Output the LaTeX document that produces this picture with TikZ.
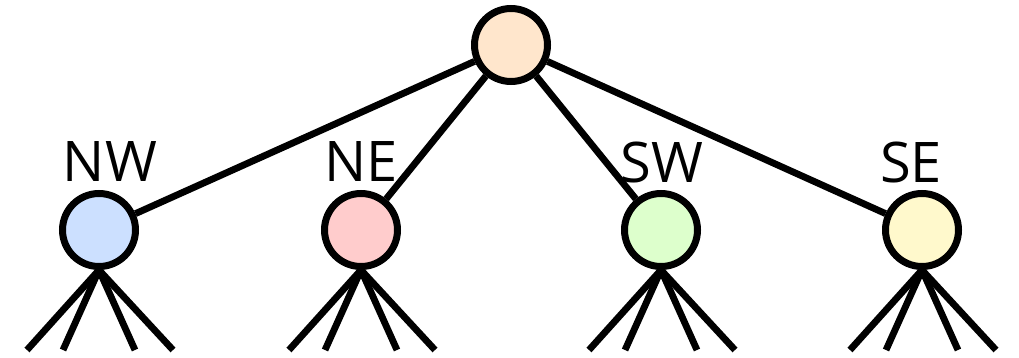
\documentclass[tikz,border=0pt]{standalone}
\usepackage{fontspec}
\setmainfont{Open Sans}
\usetikzlibrary{backgrounds}
\definecolor{rootfill}{HTML}{FFE6CC}
\definecolor{nwfill}{HTML}{CCE0FF}
\definecolor{nefill}{HTML}{FFCCCC}
\definecolor{swfill}{HTML}{DDFFCC}
\definecolor{sefill}{HTML}{FFF9CC}
\begin{document}
\begin{tikzpicture}[x=1pt,y=1pt,
  treenode/.style={circle,draw=black,line width=7pt,minimum size=73pt,inner sep=0pt},
  edge/.style={draw=black,line width=6.8pt},
  quadlabel/.style={font=\fontsize{56}{60}\selectfont,inner sep=0pt,anchor=center}]
  \useasboundingbox (0,0) rectangle (1019,357);
  % root and the four quadrant children
  \node[treenode,fill=rootfill] (root) at (511,312) {};
  \node[treenode,fill=nwfill] (nw) at (99,127) {};
  \node[treenode,fill=nefill] (ne) at (361,127) {};
  \node[treenode,fill=swfill] (sw) at (661,127) {};
  \node[treenode,fill=sefill] (se) at (922,127) {};
  % quadrant names
  \node[quadlabel] (lnw) at (110,195) {NW};
  \node[quadlabel] (lne) at (361,195) {NE};
  \node[quadlabel] (lsw) at (662,195) {SW};
  \node[quadlabel] (lse) at (911,195) {SE};
  % open ends below each child
  \foreach \c/\x in {nw/99,ne/361,sw/661,se/922}{
    \coordinate (\c-a) at (\x-72,7);
    \coordinate (\c-b) at (\x-36,7);
    \coordinate (\c-c) at (\x+36,7);
    \coordinate (\c-d) at (\x+74,7);
  }
  \begin{pgfonlayer}{background}
    \foreach \c in {nw,ne,sw,se}{
      \draw[edge] (root) -- (\c);
      \foreach \e in {a,b,c,d}{
        \draw[edge] (\c.south) -- (\c-\e);
      }
    }
  \end{pgfonlayer}
\end{tikzpicture}
\end{document}
